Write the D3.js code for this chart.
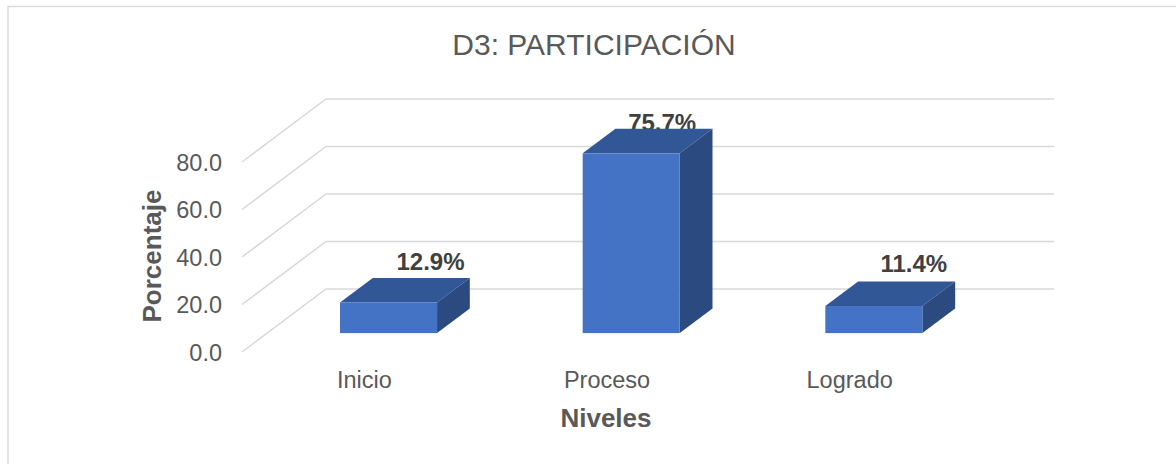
<!DOCTYPE html>
<html>
<head>
<meta charset="utf-8">
<script src="https://cdn.jsdelivr.net/npm/d3@7"></script>
<style>
html, body { margin: 0; padding: 0; background: #fff; }
svg { display: block; }
text { font-family: "Liberation Sans", Arial, sans-serif; fill: #595959; }
</style>
</head>
<body>
<div id="chart"></div>
<script>
var categories = ["Inicio", "Proceso", "Logrado"];
var values = [12.9, 75.7, 11.4];
var valueLabels = ["12.9%", "75.7%", "11.4%"];
var yTicks = [0, 20, 40, 60, 80];

var width = 1176, height = 464;
// depth of the floor, front edge to back wall
var depthX = 84, depthY = -63;
// bars stand between these fractions of the floor depth
var barNear = 0.3, barFar = 0.69;
// hand placed data labels, relative to the back top edge of each bar
var labelDx = [42, 31, 40], labelDy = [-8, 2, -9];

var x = d3.scaleBand().domain(categories).range([242, 970]);
var y = d3.scaleLinear().domain([0, 80]).range([352, 162]);
var barW = x.bandwidth() * 0.4;

var svg = d3.select("#chart").append("svg")
    .attr("width", width)
    .attr("height", height);

svg.append("rect")
    .attr("x", 8)
    .attr("y", 6.5)
    .attr("width", 1200)
    .attr("height", 470)
    .attr("fill", "#fff")
    .attr("stroke", "#d9d9d9")
    .attr("stroke-width", 1.4);

svg.append("text")
    .text("D3: PARTICIPACIÓN")
    .attr("x", 594)
    .attr("y", 55)
    .attr("text-anchor", "middle")
    .style("font-size", "30px");

// walls
svg.selectAll(".grid")
    .data(yTicks)
    .enter().append("path")
    .attr("class", "grid")
    .attr("fill", "none")
    .attr("stroke", "#d9d9d9")
    .attr("stroke-width", 1.5)
    .attr("d", function (d) {
        return d3.line()([
            [x.range()[0], y(d)],
            [x.range()[0] + depthX, y(d) + depthY],
            [x.range()[1] + depthX, y(d) + depthY]
        ]);
    });

svg.selectAll(".tick-label")
    .data(yTicks)
    .enter().append("text")
    .attr("class", "tick-label")
    .text(function (d) { return d3.format(".1f")(d); })
    .attr("x", 222)
    .attr("y", function (d) { return y(d) + 8.5; })
    .attr("text-anchor", "end")
    .style("font-size", "23.5px");

svg.selectAll(".cat-label")
    .data(categories)
    .enter().append("text")
    .attr("class", "cat-label")
    .text(function (d) { return d; })
    .attr("x", function (d) { return x(d) + x.bandwidth() / 2 + 1; })
    .attr("y", 388)
    .attr("text-anchor", "middle")
    .style("font-size", "23.5px");

svg.append("text")
    .text("Niveles")
    .attr("x", 606)
    .attr("y", 427)
    .attr("text-anchor", "middle")
    .style("font-size", "26px")
    .style("font-weight", "bold");

svg.append("text")
    .text("Porcentaje")
    .attr("transform", "translate(161,256) rotate(-90)")
    .attr("text-anchor", "middle")
    .style("font-size", "26px")
    .style("font-weight", "bold");

// labels go under the bars, the tall bar's top face cuts into its label
function barLeft(i) {
    return x(categories[i]) + (x.bandwidth() - barW) / 2 + depthX * barNear;
}
function barBase() {
    return y(0) + depthY * barNear;
}
function barTop(i) {
    return barBase() - (y(0) - y(values[i]));
}
var offX = depthX * (barFar - barNear), offY = depthY * (barFar - barNear);

svg.selectAll(".value-label")
    .data(values)
    .enter().append("text")
    .attr("class", "value-label")
    .text(function (d, i) { return valueLabels[i]; })
    .attr("x", function (d, i) { return barLeft(i) + barW / 2 + labelDx[i]; })
    .attr("y", function (d, i) { return barTop(i) + offY + labelDy[i]; })
    .attr("text-anchor", "middle")
    .style("font-size", "24px")
    .style("font-weight", "bold")
    .style("fill", "#404040");

var bars = svg.selectAll(".bar")
    .data(values)
    .enter().append("g")
    .attr("class", "bar");

bars.append("path")
    .attr("fill", "#325796")
    .attr("d", function (d, i) {
        var l = barLeft(i), t = barTop(i);
        return d3.line()([[l, t], [l + offX, t + offY], [l + barW + offX, t + offY], [l + barW, t]]) + "Z";
    });

bars.append("path")
    .attr("fill", "#2a4a80")
    .attr("d", function (d, i) {
        var r = barLeft(i) + barW, t = barTop(i), b = barBase();
        return d3.line()([[r, t], [r + offX, t + offY], [r + offX, b + offY], [r, b]]) + "Z";
    });

bars.append("rect")
    .attr("fill", "#4472c4")
    .attr("x", function (d, i) { return barLeft(i); })
    .attr("y", function (d, i) { return barTop(i); })
    .attr("width", barW)
    .attr("height", function (d, i) { return barBase() - barTop(i); });
</script>
</body>
</html>
